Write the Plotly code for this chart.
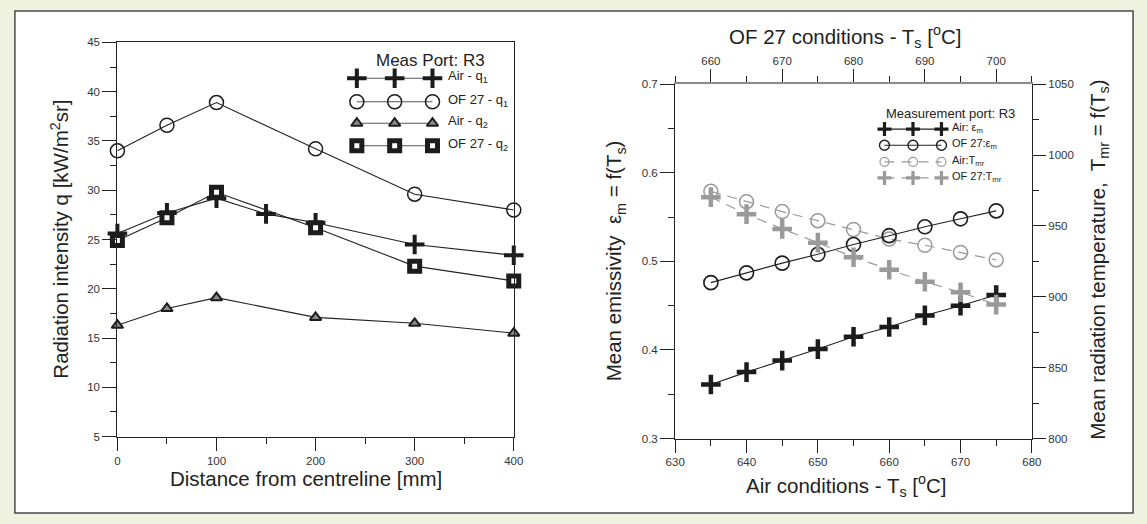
import plotly.graph_objects as go

W, H = 1147, 524
FONT = "Liberation Sans, Arial, Helvetica, sans-serif"

# ---- left panel: radiation intensity vs distance (Meas Port R3) ----
dist_mm = [0, 50, 100, 200, 300, 400]
air_q1_dist = [0, 50, 100, 150, 200, 300, 400]
air_q1 = [25.6, 27.7, 29.2, 27.6, 26.7, 24.5, 23.4]
of27_q1 = [34.0, 36.6, 38.9, 34.2, 29.6, 28.0]
air_q2 = [16.3, 18.0, 19.1, 17.1, 16.5, 15.5]
of27_q2 = [24.9, 27.2, 29.8, 26.2, 22.3, 20.8]

# ---- right panel: emissivity / radiation temperature vs Ts ----
air_ts = [635, 640, 645, 650, 655, 660, 665, 670, 675]
of27_ts = [660, 665, 670, 675, 680, 685, 690, 695, 700]
air_eps = [0.361, 0.375, 0.388, 0.401, 0.415, 0.426, 0.439, 0.450, 0.462]
of27_eps = [0.476, 0.487, 0.498, 0.508, 0.519, 0.529, 0.539, 0.548, 0.557]
air_tmr = [974.4, 967.1, 960.1, 953.7, 947.5, 940.8, 936.4, 931.3, 926.0]
of27_tmr = [970.3, 958.3, 947.9, 938.2, 927.9, 919.1, 910.6, 903.2, 894.5]

left_legend_title = "Meas Port: R3"
left_legend_labels = ["Air - q<sub>1</sub>", "OF 27 - q<sub>1</sub>",
                      "Air - q<sub>2</sub>", "OF 27 - q<sub>2</sub>"]
right_legend_title = "Measurement port: R3"
right_legend_labels = ["Air: ε<sub>m</sub>", "OF 27:ε<sub>m</sub>",
                       "Air:T<sub>mr</sub>", "OF 27:T<sub>mr</sub>"]


def fx(px):
    return px / W


def fy(py):
    return 1 - py / H


BLACK = "#1c1c1c"
GREY = "#9a9a9a"

# marker / line styles
st_cross = dict(symbol="cross-thin", size=14, color=BLACK, line=dict(color=BLACK, width=4))
st_circle = dict(symbol="circle-open", size=14, color=BLACK, line=dict(color=BLACK, width=1.5))
st_tri = dict(symbol="triangle-up", size=10, color="#8a8a8a", line=dict(color=BLACK, width=2))
st_square = dict(symbol="square", size=10, color="white", line=dict(color=BLACK, width=5))

st_r_cross = dict(symbol="cross-thin", size=14, color=BLACK, line=dict(color=BLACK, width=4.5))
st_r_circle = dict(symbol="circle-open", size=14, color=BLACK, line=dict(color=BLACK, width=1.6))
st_r_gcircle = dict(symbol="circle-open", size=14, color=GREY, line=dict(color=GREY, width=1.5))
st_r_gcross = dict(symbol="cross-thin", size=14, color=GREY, line=dict(color=GREY, width=4.5))

ln_black = dict(color="#222", width=1.1)
ln_grey_dash = dict(color=GREY, width=1.2, dash="10px,7px")

fig = go.Figure()


def add(x, y, xa, ya, marker, line):
    fig.add_trace(go.Scatter(x=x, y=y, xaxis=xa, yaxis=ya, mode="lines+markers",
                             marker=marker, line=line, cliponaxis=False,
                             showlegend=False, hoverinfo="skip"))


# left panel series
add(dist_mm, air_q2, "x", "y", st_tri, ln_black)
add(dist_mm, of27_q1, "x", "y", st_circle, ln_black)
add(air_q1_dist, air_q1, "x", "y", st_cross, ln_black)
add(dist_mm, of27_q2, "x", "y", st_square, ln_black)

# right panel series
add(air_ts, air_tmr, "x2", "y3", st_r_gcircle, ln_grey_dash)
add(of27_ts, of27_tmr, "x3", "y3", st_r_gcross, ln_grey_dash)
add(of27_ts, of27_eps, "x3", "y2", st_r_circle, ln_black)
add(air_ts, air_eps, "x2", "y2", st_r_cross, ln_black)

# ---- legend keys, drawn on a full-page pixel axis ----
left_key_x = [353, 391.5, 430]
left_rows = [74, 98, 120, 143]
left_key_styles = [st_cross, st_circle, st_tri, st_square]
left_key_line = dict(color="#555", width=1.1)
for row, mk in zip(left_rows, left_key_styles):
    add(left_key_x, [row] * 3, "x4", "y4", mk, left_key_line)

right_key_x = [890, 919, 948]
right_rows = [126, 142.5, 159.5, 176]
small = lambda d, s, w: {**d, "size": s, "line": {**d["line"], "width": w}}
right_key_styles = [small(st_r_cross, 10, 3.2), small(st_r_circle, 10, 1.4),
                    small(st_r_gcircle, 9, 1.2), small(st_r_gcross, 10, 3.2)]
right_key_lines = [ln_black, ln_black, ln_grey_dash, ln_grey_dash]
for row, mk, ln in zip(right_rows, right_key_styles, right_key_lines):
    add(right_key_x, [row] * 3, "x4", "y4", mk, ln)

annotations = []


def text(x, y, s, size, anchor="center", angle=0, ref="paper"):
    if ref == "paper":
        xr, yr, xx, yy = "paper", "paper", fx(x), fy(y)
    else:
        xr, yr, xx, yy = "x4", "y4", x, y
    annotations.append(dict(x=xx, y=yy, xref=xr, yref=yr, text=s, showarrow=False,
                            xanchor=anchor, yanchor="middle", textangle=angle,
                            font=dict(family=FONT, size=size, color="#222")))


text(428, 56, left_legend_title, 17, ref="px")
for row, lab in zip(left_rows, left_legend_labels):
    text(444, row - 1.5, lab, 13, anchor="left", ref="px")

text(889, 110.5, right_legend_title, 13, anchor="left", ref="px")
for row, lab in zip(right_rows, right_legend_labels):
    text(957, row - 1, lab, 11, anchor="left", ref="px")

# axis titles
text(50, 239, "Radiation intensity q [kW/m<sup>2</sup>sr]", 20.5, angle=-90)
text(301, 484, "Distance from centreline [mm]", 20.5)
text(616, 261, "Mean emissivity  ε<sub>m</sub> = f(T<sub>s</sub>)", 20.5, angle=-90)
text(1108, 260, "Mean radiation temperature,  T<sub>mr</sub> = f(T<sub>s</sub>)", 20.5, angle=-90)
text(851, 491, "Air conditions - T<sub>s</sub> [<sup>o</sup>C]", 20.5)
text(850, 31, "OF 27 conditions - T<sub>s</sub> [<sup>o</sup>C]", 20.5)

TICKFONT = dict(family=FONT, size=11.5, color="#333")


def ax(**kw):
    base = dict(showgrid=False, zeroline=False, showline=True, linecolor="#222",
                linewidth=1.2, ticks="outside", ticklen=13, tickwidth=1.2,
                tickcolor="#222", tickfont=TICKFONT, fixedrange=True)
    base.update(kw)
    return base


def minor(dt, color="#222"):
    return dict(dtick=dt, ticks="outside", ticklen=6, tickwidth=1.2, tickcolor=color)


L_DOM_X = [fx(109.3), fx(512.7)]
L_DOM_Y = [fy(440.7), fy(37.3)]
R_DOM_X = [fx(677), fx(1040)]
R_DOM_Y = [fy(442.7), fy(80)]

fig.update_layout(
    width=W, height=H,
    margin=dict(l=0, r=0, t=0, b=0),
    paper_bgcolor="#eff2de",
    plot_bgcolor="rgba(0,0,0,0)",
    showlegend=False,
    xaxis=ax(domain=L_DOM_X, anchor="y", range=[0, 400], tick0=0, dtick=100,
             minor=minor(50), mirror=True),
    yaxis=ax(domain=L_DOM_Y, anchor="x", range=[5, 45], tick0=5, dtick=5,
             minor=minor(2.5), ticklen=14, mirror=True),
    xaxis2=ax(domain=R_DOM_X, anchor="y2", range=[630, 680], tick0=630, dtick=10,
              minor=minor(5)),
    xaxis3=ax(domain=R_DOM_X, anchor="y2", overlaying="x2", side="top",
              range=[655, 705], tick0=660, dtick=10, minor=minor(5),
              linecolor="#8a8a8a", linewidth=2),
    yaxis2=ax(domain=R_DOM_Y, anchor="x2", range=[0.3, 0.7], tick0=0.3, dtick=0.1,
              tickformat=".1f", minor=minor(0.05), ticklen=14),
    yaxis3=ax(domain=R_DOM_Y, anchor="x2", overlaying="y2", side="right",
              range=[800, 1050], tick0=800, dtick=50, minor=minor(25)),
    xaxis4=dict(domain=[0, 1], anchor="y4", range=[0, W], visible=False, fixedrange=True),
    yaxis4=dict(domain=[0, 1], anchor="x4", range=[H, 0], visible=False, fixedrange=True),
    annotations=annotations,
    shapes=[dict(type="rect", xref="paper", yref="paper",
                 x0=fx(5), x1=fx(1143), y0=fy(519), y1=fy(5),
                 line=dict(color="#4a4a4a", width=1.5), fillcolor="white",
                 layer="below")],
)

fig.write_html("out.html")
